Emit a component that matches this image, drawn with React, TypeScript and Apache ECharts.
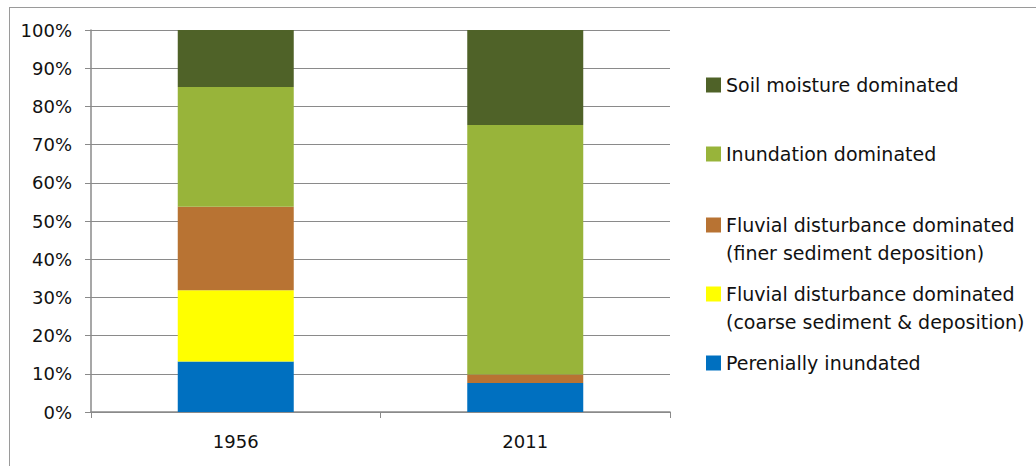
import React, { useEffect, useRef } from "react";
import * as echarts from "echarts";

const categories = ["1956", "2011"];
const seriesNames = [
  "Perenially inundated",
  "Fluvial disturbance dominated\n(coarse sediment & deposition)",
  "Fluvial disturbance dominated\n(finer sediment deposition)",
  "Inundation dominated",
  "Soil moisture dominated",
];
const perenially = [13.2, 7.6];
const coarse = [18.7, 0];
const finer = [21.8, 2.2];
const inundation = [31.4, 65.3];
const soilMoisture = [14.9, 24.9];
const yTicks = [0, 10, 20, 30, 40, 50, 60, 70, 80, 90, 100];

const colors = ["#0070C0", "#FFFF00", "#B87333", "#98B43A", "#4F6228"];
const seriesValues = [perenially, coarse, finer, inundation, soilMoisture];
const legendTops = [352, 252, 183, 143, 74];
const twoLine = [false, true, true, false, false];

const FONT = "DejaVu Sans";
const GRID = "#8a8a8a";

export default function App() {
  const ref = useRef<HTMLDivElement>(null);
  useEffect(() => {
    if (!ref.current) return;
    const chart = echarts.init(ref.current, undefined, { renderer: "svg" });
    chart.setOption({
      animation: false,
      backgroundColor: "#ffffff",
      textStyle: { fontFamily: FONT },
      grid: { left: 91, right: 366, top: 30, bottom: 54, containLabel: false },
      xAxis: {
        type: "category",
        data: categories,
        axisLine: { show: true, lineStyle: { color: GRID, width: 1.5 } },
        axisTick: { show: true, length: 6, lineStyle: { color: GRID } },
        axisLabel: { margin: 20, fontSize: 18, color: "#111", fontFamily: FONT },
        splitLine: { show: false },
      },
      yAxis: {
        type: "value",
        min: yTicks[0],
        max: yTicks[yTicks.length - 1],
        interval: 10,
        axisLine: { show: true, lineStyle: { color: GRID, width: 1.5 } },
        axisTick: { show: true, length: 6, lineStyle: { color: GRID } },
        axisLabel: {
          margin: 19,
          fontSize: 18,
          color: "#111",
          fontFamily: FONT,
          formatter: "{value}%",
        },
        splitLine: { show: true, lineStyle: { color: GRID, width: 1.2 } },
      },
      legend: seriesNames.map((name, i) => ({
        data: [name],
        formatter: (n: string) => (twoLine[i] ? " \n" + n : n),
        left: 706,
        top: legendTops[i],
        padding: 0,
        icon: "rect",
        itemWidth: 15,
        itemHeight: 15,
        selectedMode: false,
        textStyle: {
          fontSize: 19,
          color: "#111",
          fontFamily: FONT,
          lineHeight: twoLine[i] ? 28 : 22,
        },
      })),
      graphic: [
        {
          type: "line",
          shape: { x1: 9, y1: 7.5, x2: 1036, y2: 7.5 },
          style: { stroke: "#9a9a9a", lineWidth: 1 },
        },
        {
          type: "line",
          shape: { x1: 9.5, y1: 7, x2: 9.5, y2: 466 },
          style: { stroke: "#9a9a9a", lineWidth: 1 },
        },
      ],
      series: seriesNames.map((name, i) => ({
        name,
        type: "bar",
        stack: "total",
        barWidth: 116,
        data: seriesValues[i],
        itemStyle: { color: colors[i] },
      })),
    });
    return () => chart.dispose();
  }, []);
  return (
    <div
      ref={ref}
      style={{ position: "absolute", left: 0, top: 0, width: 1036, height: 466 }}
    />
  );
}
